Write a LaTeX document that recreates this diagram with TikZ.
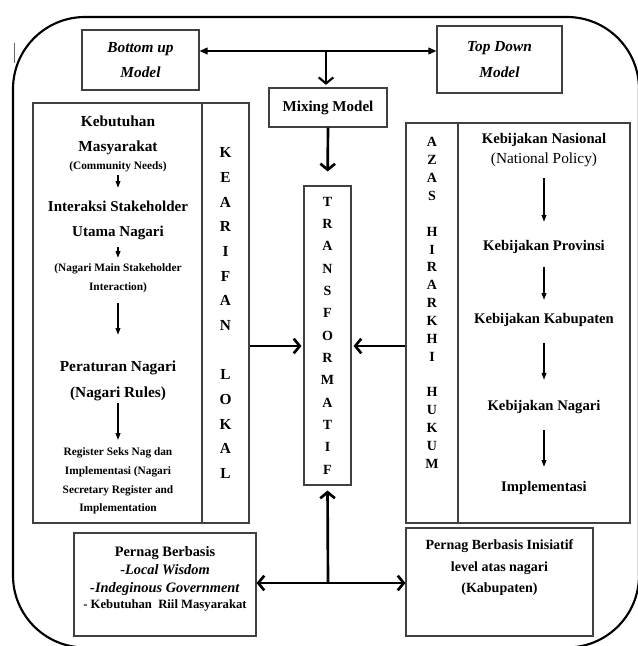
\documentclass[tikz,border=0pt]{standalone}
\usepackage{fontspec}
\setmainfont{Liberation Serif}
\usetikzlibrary{arrows.meta}

\tikzset{
  smalltip/.tip={Triangle[length=5pt,width=3.6pt]},
  toptip/.tip={Triangle[length=6pt,width=5pt]},
  bigtip/.tip={Straight Barb[length=4.5pt,width=11pt]},
}

\begin{document}
\begin{tikzpicture}[x=0.75pt,y=0.75pt,yscale=-1,xscale=1,
  box/.style={draw=black!75, line width=0.8pt, inner sep=0pt},
  txt/.style={inner sep=0pt, align=center},
  head/.style={font=\bfseries\fontsize{11.3}{18.75}\selectfont},
  note/.style={font=\bfseries\fontsize{8.5}{14}\selectfont},
  letters/.style={align=center, font=\bfseries\fontsize{11.5}{18.5}\selectfont},
  inarrow/.style={line width=0.8pt, -smalltip},
  bigarrow/.style={line width=2pt}]
\useasboundingbox (0,0) rectangle (637,646);

%Shape: Rounded Rect (outer frame)
\draw [line width=1.6pt, rounded corners=54pt] (13,17) rectangle (639,647.5);
\draw [black!60, line width=0.6pt] (14,43) -- (14,63);

%Shape: Rectangle (models)
\node [box, txt, minimum width=87.75pt, minimum height=45pt, font=\bfseries\itshape\fontsize{11.5}{18.75}\selectfont] (bottomup) at (140.5,60) {Bottom up\\Model};
\node [box, txt, minimum width=93.75pt, minimum height=50.25pt, font=\bfseries\itshape\fontsize{11.5}{19.5}\selectfont] (topdown) at (499.5,59.5) {Top Down\\Model};
\node [box, head, minimum width=88.5pt, minimum height=29.25pt] (mixing) at (328,107.5) {Mixing Model};
\node [box, letters, minimum width=35.25pt, minimum height=224.25pt, font=\bfseries\fontsize{10.5}{16.75}\selectfont] (transf) at (327.5,335.5) {T\\R\\A\\N\\S\\F\\O\\R\\M\\A\\T\\I\\F};

%Shape: Rectangle (left block)
\node [box, minimum width=126.75pt, minimum height=315pt] (leftcol) at (117.5,313) {};
\node [box, letters, minimum width=35.25pt, minimum height=315pt] (kearifan) at (225.5,313) {K\\E\\A\\R\\I\\F\\A\\N\\\mbox{}\\L\\O\\K\\A\\L};

%Shape: Rectangle (right block)
\node [box, minimum width=39pt, minimum height=300pt] (azas) at (432,323) {};
\node [box, minimum width=129pt, minimum height=300pt] (policy) at (544,323) {};
\node [txt, letters, font=\bfseries\fontsize{10.5}{13.4}\selectfont] (azastext) at (432,303) {A\\Z\\A\\S\\\mbox{}\\H\\I\\R\\A\\R\\K\\H\\I\\\mbox{}\\H\\U\\K\\U\\M};

%Shape: Rectangle (bottom)
\node [box, minimum width=136.5pt, minimum height=77.25pt] (pernagl) at (165,584.5) {};
\node [box, minimum width=140.25pt, minimum height=81pt] (pernagr) at (499.5,582) {};

% Text Node
\node [txt, font=\bfseries\fontsize{11.5}{18.75}\selectfont] (needs) at (118,135.5) {Kebutuhan\\Masyarakat};
% Text Node
\node [txt, note] (needsen) at (118,167) {(Community Needs)};
% Text Node
\node [txt, head] (inter) at (118,220) {Interaksi Stakeholder\\Utama Nagari};
% Text Node
\node [txt, font=\bfseries\fontsize{8.5}{14.25}\selectfont] (interen) at (118,278) {(Nagari Main Stakeholder\\Interaction)};
% Text Node
\node [txt, font=\bfseries\fontsize{11.5}{19.5}\selectfont] (rules) at (118,381) {Peraturan Nagari\\(Nagari Rules)};
% Text Node
\node [txt, note] (regis) at (118,481) {Register Seks Nag dan\\Implementasi (Nagari\\Secretary Register and\\Implementation};

% Text Node
\node [txt, font=\bfseries\fontsize{11}{13}\selectfont] (nas) at (544,140) {Kebijakan Nasional};
% Text Node
\node [txt, font=\fontsize{11.5}{13}\selectfont] (nasen) at (544,160) {(National Policy)};
% Text Node
\node [txt, font=\bfseries\fontsize{11}{13}\selectfont] (prov) at (544,247) {Kebijakan Provinsi};
% Text Node
\node [txt, font=\bfseries\fontsize{11}{13}\selectfont] (kab) at (544,320) {Kebijakan Kabupaten};
% Text Node
\node [txt, font=\bfseries\fontsize{11}{13}\selectfont] (nag) at (544,407) {Kebijakan Nagari};
% Text Node
\node [txt, font=\bfseries\fontsize{11}{13}\selectfont] (impl) at (544,488) {Implementasi};

% Text Node
\node [txt, font=\bfseries\fontsize{10.8}{13.5}\selectfont] (pernagltext) at (165,579) {Pernag Berbasis\\\textit{-Local Wisdom}\\\textit{-Indeginous Government}\\[-2pt]{\fontsize{9.5}{11}\selectfont - Kebutuhan\ \ Riil Masyarakat}};
% Text Node
\node [txt, font=\bfseries\fontsize{10.5}{16.1}\selectfont] (pernagrtext) at (499.5,568) {Pernag Berbasis Inisiatif\\level atas nagari\\(Kabupaten)};

%Straight Lines (inside left block)
\draw [inarrow, shorten <=2.25pt, shorten >=9.5pt] (needsen) -- (inter);
\draw [inarrow, shorten <=5.8pt, shorten >=4pt] (inter) -- (interen);
\draw [inarrow, shorten <=7.8pt, shorten >=19.5pt] (interen) -- (rules);
\draw [inarrow, shorten <=1.5pt, shorten >=5.8pt] (rules) -- (regis);

%Straight Lines (inside right block)
\draw [inarrow, shorten <=8.25pt, shorten >=13.8pt] (nasen) -- (prov);
\draw [inarrow, shorten <=10pt, shorten >=10pt] (prov) -- (kab);
\draw [inarrow, shorten <=12.3pt, shorten >=15.3pt] (kab) -- (nag);
\draw [inarrow, shorten <=12.3pt, shorten >=10.8pt] (nag) -- (impl);

%Straight Lines (main)
\coordinate (topmid) at (326,51);
\coordinate (midrow) at (328,346);
\coordinate (botmid) at (328,583);
\draw [line width=1.2pt, toptip-toptip] (bottomup.east |- topmid) -- (topdown.west |- topmid);
\draw [line width=1.6pt, -bigtip, shorten >=2pt] (topmid) -- (topmid |- mixing.north);
\draw [bigarrow, -bigtip, shorten >=10.5pt] (mixing.south) -- (transf.north);
\draw [bigarrow, -bigtip, shorten >=1.5pt] (kearifan.east |- midrow) -- (transf.west |- midrow);
\draw [bigarrow, -bigtip, shorten >=1.5pt] (azas.west |- midrow) -- (transf.east |- midrow);
\draw [bigarrow, -bigtip, shorten >=3.75pt] (botmid) -- (transf.south);
\draw [bigarrow, bigtip-bigtip] (pernagl.east |- botmid) -- (pernagr.west |- botmid);

\end{tikzpicture}
\end{document}
